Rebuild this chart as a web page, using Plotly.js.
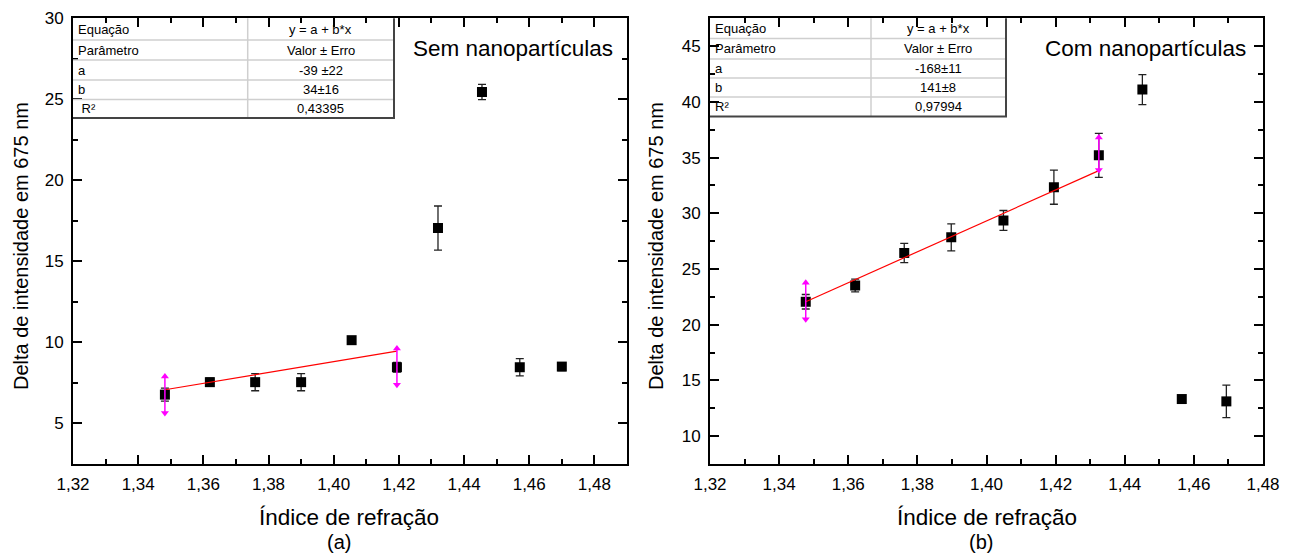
<!DOCTYPE html>
<html>
<head>
<meta charset="utf-8">
<script src="https://cdn.plot.ly/plotly-3.0.1.min.js"></script>
<style>html,body{margin:0;padding:0;background:#fff;}#chart{width:1291px;height:556px;}</style>
</head>
<body>
<div id="chart"></div>
<script>
// ---------------- data ----------------
const xA = [1.3482, 1.3620, 1.3759, 1.3900, 1.4055, 1.4194, 1.4320, 1.4455, 1.4571, 1.4700];
const yA = [6.78, 7.55, 7.55, 7.55, 10.14, 8.47, 17.06, 25.45, 8.47, 8.51];
const errA = [0.40, 0.25, 0.53, 0.53, 0.20, 0.30, 1.36, 0.47, 0.53, 0.25];

const xB = [1.3477, 1.3620, 1.3762, 1.3898, 1.4049, 1.4195, 1.4325, 1.4451, 1.4565, 1.4694];
const yB = [22.06, 23.52, 26.44, 27.84, 29.36, 32.34, 35.20, 41.10, 13.33, 13.12];
const errB = [0.65, 0.57, 0.86, 1.21, 0.89, 1.53, 1.97, 1.34, 0.25, 1.45];

// fitted lines (end points as drawn)
const fitAx = [1.3482, 1.4194];
const fitAy = [7.08, 9.47];
const fitBx = [1.3477, 1.4325];
const fitBy = [22.06, 33.83];

// fit-range markers (magenta double arrows)
const rangeAx = [1.3482, 1.4194];
const rangeAlo = [5.65, 7.39];
const rangeAhi = [7.90, 9.63];
const rangeBx = [1.3477, 1.4325];
const rangeBlo = [20.48, 33.89];
const rangeBhi = [23.76, 36.81];

// fit tables
const tableLabelsA = ['Equação', 'Parâmetro', 'a', 'b', ' R²'];
const tableValuesA = ['y = a + b*x', 'Valor ± Erro', '-39 ±22', '34±16', '0,43395'];
const tableLabelsB = ['Equação', 'Parâmetro', 'a', 'b', 'R²'];
const tableValuesB = ['y = a + b*x', 'Valor ± Erro', '-168±11', '141±8', '0,97994'];

const panelTitles = ['Sem nanopartículas', 'Com nanopartículas'];
const panelLetters = ['(a)', '(b)'];
const xTitle = 'Índice de refração';
const yTitle = 'Delta de intensidade em 675 nm';

// ---------------- layout helpers ----------------
const W = 1291, H = 556;
const FONT = 'Arial, "Liberation Sans", sans-serif';
const px = x => x / W;
const py = y => 1 - y / H;

function rangeTrace(xs, lo, hi, xa, ya) {
  const x = [], y = [], sym = [];
  for (let i = 0; i < xs.length; i++) {
    x.push(xs[i], xs[i], null);
    y.push(lo[i], hi[i], null);
    sym.push('triangle-down', 'triangle-up', 'circle');
  }
  return {x, y, xaxis: xa, yaxis: ya, mode: 'lines+markers', hoverinfo: 'skip',
    line: {color: '#ff00ff', width: 1.5},
    marker: {symbol: sym, size: 7, color: '#ff00ff'}, showlegend: false};
}

const traces = [
  {x: xA, y: yA, xaxis: 'x', yaxis: 'y', mode: 'markers', type: 'scatter',
   marker: {symbol: 'square', size: 10, color: '#000'},
   error_y: {type: 'data', array: errA, visible: true, color: '#222', thickness: 1.3, width: 4},
   showlegend: false},
  {x: fitAx, y: fitAy, xaxis: 'x', yaxis: 'y', mode: 'lines', line: {color: '#ff0000', width: 1.2}, showlegend: false},
  rangeTrace(rangeAx, rangeAlo, rangeAhi, 'x', 'y'),
  {x: xB, y: yB, xaxis: 'x2', yaxis: 'y2', mode: 'markers', type: 'scatter',
   marker: {symbol: 'square', size: 10, color: '#000'},
   error_y: {type: 'data', array: errB, visible: true, color: '#222', thickness: 1.3, width: 4},
   showlegend: false},
  {x: fitBx, y: fitBy, xaxis: 'x2', yaxis: 'y2', mode: 'lines', line: {color: '#ff0000', width: 1.2}, showlegend: false},
  rangeTrace(rangeBx, rangeBlo, rangeBhi, 'x2', 'y2')
];

function axisCommon() {
  return {
    showline: true, linewidth: 2, linecolor: '#000', mirror: 'ticks',
    ticks: 'inside', ticklen: 9, tickwidth: 2, tickcolor: '#000',
    showgrid: false, zeroline: false, fixedrange: true,
    tickfont: {family: FONT, size: 17, color: '#000'}
  };
}

const plotA = {x0: 73, x1: 627, y0: 18.3, y1: 464};
const plotB = {x0: 710, x1: 1263, y0: 18.3, y1: 464};

const layout = {
  width: W, height: H,
  margin: {l: 0, r: 0, t: 0, b: 0},
  paper_bgcolor: '#fff', plot_bgcolor: '#fff',
  separators: ',.',
  showlegend: false,
  font: {family: FONT, color: '#000'},
  xaxis: Object.assign(axisCommon(), {domain: [px(plotA.x0), px(plotA.x1)], anchor: 'y',
    range: [1.32, 1.49], tick0: 1.32, dtick: 0.02, tickformat: '.2f', ticklabelstandoff: 4,
    minor: {dtick: 0.01, ticks: 'inside', ticklen: 5, tickwidth: 2, tickcolor: '#000'}}),
  yaxis: Object.assign(axisCommon(), {domain: [py(plotA.y1), py(plotA.y0)], anchor: 'x',
    range: [2.5, 30], tick0: 0, dtick: 5, ticklabelstandoff: 4,
    minor: {dtick: 2.5, ticks: 'inside', ticklen: 5, tickwidth: 2, tickcolor: '#000'}}),
  xaxis2: Object.assign(axisCommon(), {domain: [px(plotB.x0), px(plotB.x1)], anchor: 'y2',
    range: [1.32, 1.48], tick0: 1.32, dtick: 0.02, tickformat: '.2f', ticklabelstandoff: 4,
    minor: {dtick: 0.01, ticks: 'inside', ticklen: 5, tickwidth: 2, tickcolor: '#000'}}),
  yaxis2: Object.assign(axisCommon(), {domain: [py(plotB.y1), py(plotB.y0)], anchor: 'x2',
    range: [7.5, 47.5], tick0: 0, dtick: 5, ticklabelstandoff: 4,
    minor: {dtick: 2.5, ticks: 'inside', ticklen: 5, tickwidth: 2, tickcolor: '#000'}}),
  shapes: [],
  annotations: []
};

function addTable(x0, xs, x1, rows, labels, values) {
  const S = layout.shapes, A = layout.annotations;
  const seg = (ax, ay, bx, by, color, w) => S.push({type: 'line', xref: 'paper', yref: 'paper',
    x0: px(ax), y0: py(ay), x1: px(bx), y1: py(by), line: {color, width: w}, layer: 'above'});
  S.push({type: 'rect', xref: 'paper', yref: 'paper', x0: px(x0), x1: px(x1), y0: py(rows[rows.length - 1]), y1: py(rows[0]),
    fillcolor: '#fff', line: {width: 0}, layer: 'below'});
  for (let i = 1; i < rows.length - 1; i++) seg(x0, rows[i], x1, rows[i], '#cfcfcf', 1.5);
  seg(xs, rows[0], xs, rows[rows.length - 1], '#cfcfcf', 1.5);
  seg(x0, rows[rows.length - 1], x1 + 1, rows[rows.length - 1], '#444', 2);
  seg(x1, rows[0], x1, rows[rows.length - 1], '#444', 2);
  for (let i = 0; i < labels.length; i++) {
    const yc = (rows[i] + rows[i + 1]) / 2;
    A.push({xref: 'paper', yref: 'paper', x: px(x0 + 3), y: py(yc), xanchor: 'left', yanchor: 'middle',
      text: labels[i], showarrow: false, font: {family: FONT, size: 13, color: '#000'}});
    A.push({xref: 'paper', yref: 'paper', x: px((xs + x1) / 2), y: py(yc), xanchor: 'center', yanchor: 'middle',
      text: values[i], showarrow: false, font: {family: FONT, size: 13, color: '#000'}});
  }
}
addTable(73, 247.7, 394, [18.3, 40, 60, 80, 99.5, 118], tableLabelsA, tableValuesA);
addTable(710, 871, 1006, [18.3, 38.5, 59, 78, 97, 116.5], tableLabelsB, tableValuesB);

function txt(x, y, text, size, xanchor, angle) {
  layout.annotations.push({xref: 'paper', yref: 'paper', x: px(x), y: py(y), xanchor: xanchor || 'center', yanchor: 'middle',
    text, showarrow: false, textangle: angle || 0, font: {family: FONT, size, color: '#000'}});
}
txt(615, 48, panelTitles[0], 22.5, 'right');
txt(1248, 48, panelTitles[1], 22.5, 'right');
txt(349, 517, xTitle, 22.5);
txt(987, 517, xTitle, 22.5);
txt(339, 542, panelLetters[0], 20);
txt(981, 542, panelLetters[1], 20);
txt(21, 246, yTitle, 20, 'center', -90);
txt(656, 246, yTitle, 20, 'center', -90);

Plotly.newPlot('chart', traces, layout, {staticPlot: true, displayModeBar: false});
</script>
</body>
</html>
